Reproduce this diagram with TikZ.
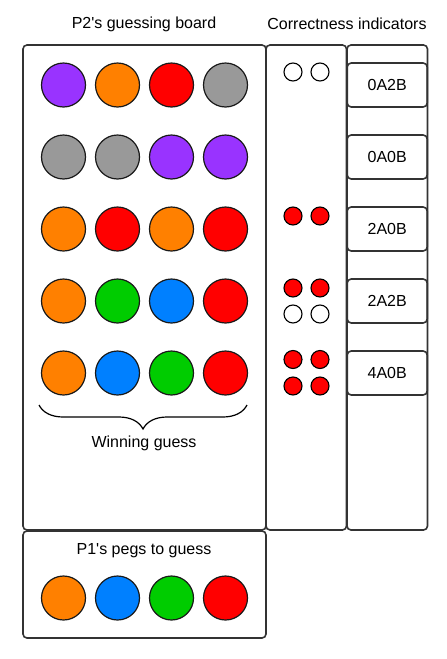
\documentclass[tikz,border=0pt]{standalone}
\usepackage{fontspec}
\setmainfont{Liberation Sans}
\usetikzlibrary{decorations.pathreplacing}
\definecolor{pegpurple}{HTML}{9933FF}
\definecolor{pegorange}{HTML}{FF8000}
\definecolor{pegred}{HTML}{FF0000}
\definecolor{peggrey}{HTML}{999999}
\definecolor{peggreen}{HTML}{00CC00}
\definecolor{pegblue}{HTML}{0080FF}
\definecolor{edge}{HTML}{333333}
\begin{document}
\begin{tikzpicture}[x=1pt,y=-1pt,font=\fontsize{16}{19}\selectfont,
  panel/.style={draw=edge,line width=1.6pt,rounded corners=4pt},
  peg/.style={circle,draw=black!90,line width=1.2pt,minimum size=44pt,inner sep=0pt},
  pin/.style={circle,draw=black,line width=1.1pt,minimum size=18pt,inner sep=0pt},
  score/.style={draw=edge,line width=1.6pt,rounded corners=4pt,minimum width=80pt,minimum height=44pt}]
\useasboundingbox (0,0) rectangle (447,659);
\node (title2) at (144,24) {P2\textquotesingle s guessing board};
\node (titlec) at (347,24) {Correctness indicators};
\draw[panel] (23,45) rectangle (266,530);
\draw[panel] (266,45) rectangle (346.5,530);
\draw[panel] (347,45) rectangle (427.5,530);
\draw[panel] (23,531) rectangle (266,638);
\foreach \row/\y/\cols in {1/85/{pegpurple,pegorange,pegred,peggrey},
  2/157/{peggrey,peggrey,pegpurple,pegpurple},
  3/229/{pegorange,pegred,pegorange,pegred},
  4/301/{pegorange,peggreen,pegblue,pegred},
  5/373/{pegorange,pegblue,peggreen,pegred}}
  \foreach \c [count=\i] in \cols
    \node[peg,fill=\c] (g\row\i) at ({63.5+54*(\i-1)},\y) {};
\foreach \c [count=\i] in {pegorange,pegblue,peggreen,pegred}
  \node[peg,fill=\c] (s\i) at ({63.5+54*(\i-1)},598) {};
\node[score] (r1) at (387.2,85) {0A2B};
\node[score] (r2) at (387.2,157) {0A0B};
\node[score] (r3) at (387.2,229) {2A0B};
\node[score] (r4) at (387.2,301) {2A2B};
\node[score] (r5) at (387.2,373) {4A0B};
\node[pin,fill=white] (p1a) at (293,72) {};
\node[pin,fill=white] (p1b) at (320,72) {};
\node[pin,fill=pegred] (p3a) at (293,216) {};
\node[pin,fill=pegred] (p3b) at (320,216) {};
\node[pin,fill=pegred] (p4a) at (293,288) {};
\node[pin,fill=pegred] (p4b) at (320,288) {};
\node[pin,fill=white] (p4c) at (293,314) {};
\node[pin,fill=white] (p4d) at (320,314) {};
\node[pin,fill=pegred] (p5a) at (293,359.5) {};
\node[pin,fill=pegred] (p5b) at (320,359.5) {};
\node[pin,fill=pegred] (p5c) at (293,386) {};
\node[pin,fill=pegred] (p5d) at (320,386) {};
\coordinate (bl) at (39,405);
\coordinate (br) at (247,405);
\draw[decorate,decoration={brace,mirror,amplitude=24pt},line width=1.2pt] (bl) -- (br);
\node (win) at (144,443) {Winning guess};
\node (title1) at (144,551) {P1\textquotesingle s pegs to guess};
\end{tikzpicture}
\end{document}
